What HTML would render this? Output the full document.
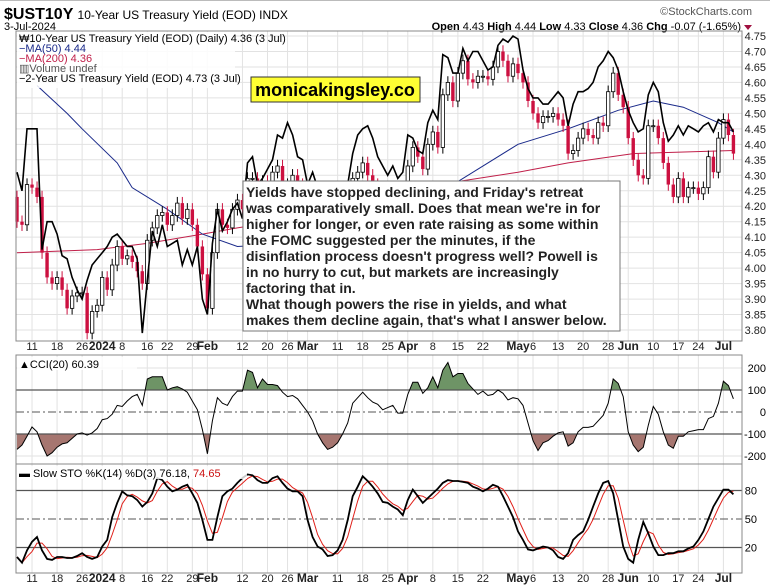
<!DOCTYPE html>
<html><head><meta charset="utf-8">
<style>
body{margin:0;background:#fff;}
svg{display:block;font-family:"Liberation Sans",Arial,sans-serif;}
</style></head>
<body>
<svg id="chart" width="770" height="588" viewBox="0 0 770 588" xmlns="http://www.w3.org/2000/svg">
<rect width="770" height="588" fill="#fff"/>
<line x1="0" y1="0.5" x2="770" y2="0.5" stroke="#bbb"/>
<text x="4" y="19" font-size="16" font-weight="bold">$UST10Y <tspan font-size="12" font-weight="normal">10-Year US Treasury Yield (EOD) INDX</tspan></text>
<text x="4" y="30" font-size="11">3-Jul-2024</text>
<text x="752" y="15" font-size="11" fill="#555" text-anchor="end">©StockCharts.com</text>
<text x="741" y="30" font-size="11" text-anchor="end"><tspan font-weight="bold">Open</tspan> 4.43 <tspan font-weight="bold">High</tspan> 4.44 <tspan font-weight="bold">Low</tspan> 4.33 <tspan font-weight="bold">Close</tspan> 4.36 <tspan font-weight="bold">Chg</tspan> -0.07 (-1.65%)</text>
<polygon points="744,25 752,25 748,30" fill="#a01040"/>
<g id="grid"></g>
<g id="main"></g>
<g id="cci"></g>
<g id="sto"></g>
<g id="axes"></g>
<g id="overlay"></g>
</svg>
<script>
// ---------- data ----------
const tickIdx = [3,8,13,17,21,26,30,35,38,45,50,54,58,64,69,74,78,83,88,93,100,103,108,113,118,122,127,132,136,141];
const tickLabels = ["11","18","26","2024","8","16","22","29","Feb","12","20","26","Mar","11","18","25","Apr","8","15","22","May","6","13","20","28","Jun","10","17","24","Jul"];
const boldTicks = ["2024","Feb","Mar","Apr","May","Jun","Jul"];
const closes = [4.15,4.14,4.27,4.26,4.23,4.05,3.97,3.95,3.97,3.93,3.87,3.91,3.92,3.92,3.79,3.86,3.88,3.97,3.93,4.01,
4.07,4.03,4.04,4.02,3.99,3.95,4.09,4.13,4.17,4.18,4.14,4.17,4.21,4.16,4.19,4.14,4.07,3.98,3.87,4.05,
4.19,4.14,4.13,4.19,4.22,4.19,4.29,4.29,4.28,4.28,4.27,4.31,4.33,4.27,4.27,4.30,4.27,4.25,4.22,4.20,
4.15,4.11,4.10,4.09,4.10,4.15,4.20,4.29,4.31,4.34,4.30,4.27,4.25,4.22,4.23,4.20,4.20,4.25,4.33,4.39,
4.36,4.32,4.40,4.44,4.39,4.56,4.60,4.54,4.63,4.67,4.61,4.60,4.62,4.62,4.61,4.65,4.70,4.67,4.62,4.66,
4.63,4.60,4.54,4.50,4.47,4.49,4.49,4.50,4.48,4.46,4.37,4.38,4.42,4.45,4.43,4.42,4.47,4.46,4.57,4.63,
4.56,4.52,4.42,4.35,4.30,4.29,4.46,4.46,4.42,4.34,4.27,4.23,4.29,4.23,4.26,4.26,4.24,4.26,4.36,4.31,
4.42,4.48,4.43,4.37];
const firstOpen = 4.23;
const twoYear = [4.31,4.25,4.45,4.45,4.45,4.06,4.15,4.15,4.11,4.04,4.03,3.97,3.93,3.90,3.96,4.01,4.03,4.05,4.07,4.10,
4.11,4.09,4.07,4.07,4.03,3.79,3.96,4.12,4.07,4.14,4.07,4.08,4.09,4.01,4.06,4.01,4.07,3.90,3.85,4.08,
4.19,4.12,4.15,4.19,4.21,4.16,4.34,4.36,4.27,4.29,4.32,4.35,4.43,4.42,4.47,4.43,4.36,4.35,4.27,4.31,
4.26,4.22,4.18,4.16,4.20,4.22,4.27,4.37,4.43,4.45,4.46,4.42,4.36,4.33,4.30,4.33,4.29,4.31,4.43,4.42,
4.38,4.37,4.47,4.51,4.48,4.69,4.68,4.63,4.63,4.71,4.67,4.70,4.70,4.67,4.64,4.65,4.72,4.74,4.73,4.75,
4.74,4.64,4.58,4.55,4.55,4.53,4.53,4.55,4.57,4.55,4.46,4.53,4.57,4.57,4.58,4.60,4.65,4.67,4.70,4.68,
4.64,4.57,4.51,4.47,4.44,4.45,4.56,4.60,4.57,4.47,4.41,4.43,4.46,4.43,4.46,4.45,4.44,4.46,4.47,4.44,
4.48,4.47,4.47,4.44];
const ma50Idx = [4,10,13,20,23,30,37,44,55,65,75,88,100,110,120,127,133,140,143];
const ma50Val = [4.59,4.50,4.45,4.34,4.26,4.19,4.11,4.07,4.08,4.12,4.18,4.28,4.40,4.45,4.51,4.54,4.52,4.47,4.44];
const ma200Idx = [0,16,26,37,44,60,75,88,100,110,123,143];
const ma200Val = [4.05,4.06,4.08,4.11,4.13,4.17,4.22,4.28,4.31,4.34,4.37,4.38];
const cci = [-170,-150,-110,-68,-90,-150,-200,-185,-160,-145,-140,-120,-100,-95,-105,-95,-75,-35,-30,-10,
30,25,50,70,80,30,150,160,160,160,100,110,115,105,90,50,10,-80,-190,-40,
65,40,30,70,95,95,190,180,110,150,125,125,120,90,70,75,60,30,0,-40,
-100,-140,-170,-160,-140,-100,-50,40,65,90,65,45,35,10,20,30,-5,-5,80,135,
135,85,110,160,110,190,225,160,175,175,130,105,80,95,75,80,100,85,55,65,
60,30,-50,-130,-175,-140,-130,-110,-95,-90,-155,-140,-90,-70,-70,-65,-40,-15,40,150,
130,70,-90,-150,-180,-160,-60,25,-10,-90,-150,-165,-110,-110,-90,-85,-80,-80,-30,-20,
40,140,120,60];
const stoK = [10,4,17,26,31,17,8,7,10,10,9,9,11,14,10,8,10,21,28,52,
67,79,75,74,70,63,68,77,93,91,84,79,81,84,86,77,67,49,28,28,
52,74,79,82,88,93,97,96,91,88,88,93,95,88,82,79,79,74,49,31,
21,18,11,12,17,28,49,74,84,95,90,84,77,68,67,63,60,54,70,81,
74,67,72,77,82,88,91,90,90,89,88,84,82,79,82,86,84,74,63,52,
37,28,18,17,19,21,20,17,10,8,14,28,33,37,49,63,77,88,90,77,
49,21,8,4,28,47,35,21,12,12,14,14,16,16,19,21,28,37,50,63,
72,81,81,76];
// %D = 3-period SMA of %K (definition)
const stoD = stoK.map((v,i)=> i<2 ? v : (stoK[i]+stoK[i-1]+stoK[i-2])/3);

// ---------- scales ----------
const L=16, R=742;
const xI = i => 17 + i*5.01;
const yP = p => 36 + (4.75-p)*309.5;
const yC = v => 412 - v*0.22;
const yS = v => 519 - (v-50)*0.95;
const NS="http://www.w3.org/2000/svg";
function mk(tag, attrs, parent){const e=document.createElementNS(NS,tag);for(const k in attrs)e.setAttribute(k,attrs[k]);parent.appendChild(e);return e;}
const grid=document.getElementById('grid'), main=document.getElementById('main'), cciG=document.getElementById('cci'), stoG=document.getElementById('sto'), axes=document.getElementById('axes');

// panels
const panels=[[31,341],[355,464],[464,573]];
panels.forEach((p,k)=>{
  const r=mk('rect',{x:L,y:p[0],width:R-L,height:p[1]-p[0],fill:'none',stroke:'#888','stroke-width':1},axes);
  
  
});
// vertical grid
tickIdx.forEach((ti,k)=>{
  panels.forEach(p=>{
    const l=mk('line',{x1:xI(ti),x2:xI(ti),y1:p[0],y2:p[1],stroke:'#e2e2e2'},grid);
    
    
  });
  [350,582].forEach(yy=>{
    const t=mk('text',{x:xI(ti),y:yy,'font-size':boldTicks.includes(tickLabels[k])?12:11,'font-weight':boldTicks.includes(tickLabels[k])?'bold':'normal','text-anchor':'middle',fill:'#222'},axes);
    t.textContent=tickLabels[k];
    
    
  });
});
// price grid + labels
const priceTicks=[4.75,4.70,4.65,4.60,4.55,4.50,4.45,4.40,4.35,4.30,4.25,4.20,4.15,4.10,4.05,4.00,3.95,3.90,3.85,3.80];
priceTicks.forEach(p=>{
  const l=mk('line',{x1:L,x2:R,y1:yP(p),y2:yP(p),stroke:'#e2e2e2'},grid);
  
  
  const t=mk('text',{x:766,y:yP(p)+4,'font-size':11,'text-anchor':'end',fill:'#222'},axes);
  t.textContent=p.toFixed(2);
  
  
});
// MA lines
function pathFrom(idx,vals,fy){return idx.map((ix,k)=>(k?'L':'M')+xI(ix).toFixed(1)+','+fy(vals[k]).toFixed(1)).join(' ');}
const m200=mk('path',{d:pathFrom(ma200Idx,ma200Val,yP),fill:'none',stroke:'#c0204a','stroke-width':1},main);


const m50=mk('path',{d:pathFrom(ma50Idx,ma50Val,yP),fill:'none',stroke:'#1a2a8a','stroke-width':1},main);


// candles
closes.forEach((c,i)=>{
  const o = i===0?firstOpen:closes[i-1];
  const hi=Math.max(o,c)+0.02, lo=Math.min(o,c)-0.02;
  const up=c>=o, col=up?'#000':'#cc1040';
  const w=mk('line',{x1:xI(i),x2:xI(i),y1:yP(hi),y2:yP(lo),stroke:col,'stroke-width':1},main);
  
  
  const top=yP(Math.max(o,c)), h=Math.max(1,yP(Math.min(o,c))-top);
  const b=mk('rect',{x:xI(i)-1.7,y:top,width:3.4,height:h,fill:up?'#fff':'#cc1040',stroke:col,'stroke-width':up?0.8:0},main);
  
  
});
// 2-year line
const ty=mk('path',{d:twoYear.map((v,i)=>(i?'L':'M')+xI(i).toFixed(1)+','+yP(v).toFixed(1)).join(' '),fill:'none',stroke:'#000','stroke-width':1.6},main);



// CCI panel
[[200,'200'],[100,'100'],[0,'0'],[-100,'-100'],[-200,'-200']].forEach(([v,s])=>{
  const t=mk('text',{x:766,y:yC(v)+4,'font-size':11,'text-anchor':'end'},axes);
  t.textContent=s;
  
  
});
[200,-200].forEach(v=>{const l=mk('line',{x1:L,x2:R,y1:yC(v),y2:yC(v),stroke:'#e2e2e2'},grid);});
const defs=mk('defs',{},cciG);
mk('rect',{x:L,y:355,width:R-L,height:yC(100)-355},mk('clipPath',{id:'cAbove'},defs));
mk('rect',{x:L,y:yC(-100),width:R-L,height:464-yC(-100)},mk('clipPath',{id:'cBelow'},defs));
const cciPts=cci.map((v,i)=>xI(i).toFixed(1)+','+yC(v).toFixed(1)).join(' ');
const ga=mk('polygon',{points:xI(0)+','+yC(100)+' '+cciPts+' '+xI(cci.length-1)+','+yC(100),fill:'#6e9466','clip-path':'url(#cAbove)'},cciG);


const gb=mk('polygon',{points:xI(0)+','+yC(-100)+' '+cciPts+' '+xI(cci.length-1)+','+yC(-100),fill:'#a67670','clip-path':'url(#cBelow)'},cciG);


[100,-100].forEach(v=>{const l=mk('line',{x1:L,x2:R,y1:yC(v),y2:yC(v),stroke:'#555','stroke-width':1.3},cciG);});
const z=mk('line',{x1:L,x2:R,y1:yC(0),y2:yC(0),stroke:'#555','stroke-dasharray':'8,3,2,3'},cciG);


const cl=mk('polyline',{points:cciPts,fill:'none',stroke:'#000','stroke-width':1},cciG);



// STO panel
[[80,'80'],[50,'50'],[20,'20']].forEach(([v,s])=>{
  const t=mk('text',{x:757,y:yS(v)+4,'font-size':11,'text-anchor':'end'},axes);
  t.textContent=s;
  
  
});
[80,20].forEach(v=>{const l=mk('line',{x1:L,x2:R,y1:yS(v),y2:yS(v),stroke:'#555','stroke-width':1.3},stoG);});
const fz=mk('line',{x1:L,x2:R,y1:yS(50),y2:yS(50),stroke:'#555','stroke-dasharray':'8,3,2,3'},stoG);


const dl=mk('polyline',{points:stoD.map((v,i)=>xI(i).toFixed(1)+','+yS(v).toFixed(1)).join(' '),fill:'none',stroke:'#e0201a','stroke-width':1},stoG);


const kl=mk('polyline',{points:stoK.map((v,i)=>xI(i).toFixed(1)+','+yS(v).toFixed(1)).join(' '),fill:'none',stroke:'#000','stroke-width':1.8},stoG);


</script>
<svg style="position:absolute;left:0;top:0" width="770" height="588">
<g font-family="Liberation Sans, Arial, sans-serif">
<rect x="17" y="32" width="218" height="56" fill="#fff" fill-opacity="0.85"/>
<text x="19" y="42" font-size="11">₩10-Year US Treasury Yield (EOD) (Daily) 4.36 (3 Jul)</text>
<text x="19" y="52" font-size="11" fill="#1a2a8a">−MA(50) 4.44</text>
<text x="19" y="62" font-size="11" fill="#c0204a">−MA(200) 4.36</text>
<text x="19" y="72" font-size="11" fill="#555">▥Volume undef</text>
<text x="19" y="82" font-size="11">−2-Year US Treasury Yield (EOD) 4.73 (3 Jul)</text>
<rect x="251" y="77" width="169" height="25" fill="#ffff33" stroke="#333" stroke-width="1"/>
<text x="335" y="96" font-size="18" font-weight="bold" text-anchor="middle">monicakingsley.co</text>
<rect x="243" y="181" width="377" height="150" fill="#fff" stroke="#777" stroke-width="1"/>
<text font-size="14" font-weight="bold" fill="#222">
<tspan x="246" y="197">Yields have stopped declining, and Friday's retreat</tspan>
<tspan x="246" y="213">was comparatively small. Does that mean we're in for</tspan>
<tspan x="246" y="229">higher for longer, or even rate raising as some within</tspan>
<tspan x="246" y="245">the FOMC suggested per the minutes, if the</tspan>
<tspan x="246" y="261">disinflation process doesn't progress well? Powell is</tspan>
<tspan x="246" y="277">in no hurry to cut, but markets are increasingly</tspan>
<tspan x="246" y="293">factoring that in.</tspan>
<tspan x="246" y="309">What though powers the rise in yields, and what</tspan>
<tspan x="246" y="325">makes them decline again, that's what I answer below.</tspan>
</text>
<rect x="17" y="357" width="120" height="13" fill="#fff" fill-opacity="0.8"/>
<text x="19" y="368" font-size="11">▲CCI(20) 60.39</text>
<rect x="17" y="466" width="230" height="13" fill="#fff" fill-opacity="0.8"/>
<text x="19" y="477" font-size="11">▬ Slow STO %K(14) %D(3) 76.18, <tspan fill="#cc1010">74.65</tspan></text>
</g>
</svg>
</body></html>
